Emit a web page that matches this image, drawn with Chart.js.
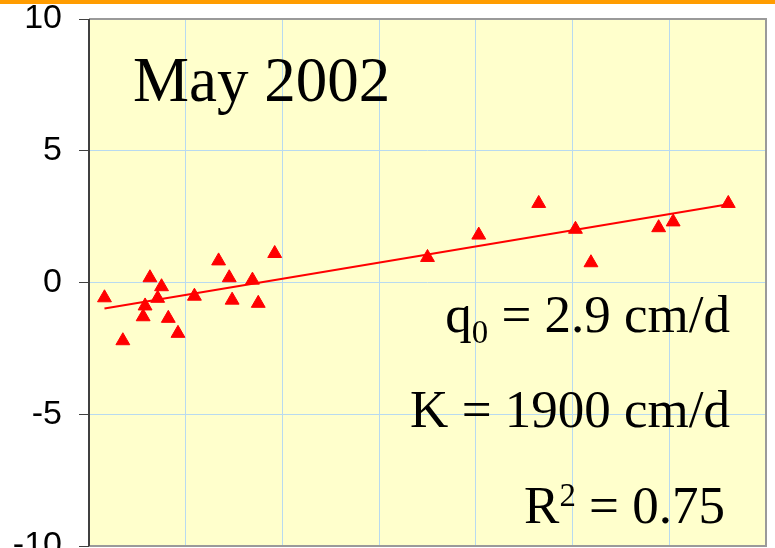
<!DOCTYPE html>
<html>
<head>
<meta charset="utf-8">
<script src="https://cdn.jsdelivr.net/npm/chart.js@4/dist/chart.umd.min.js"></script>
<style>
  html, body { margin: 0; padding: 0; background: #ffffff; overflow: hidden; width: 775px; height: 548px; }
  #wrap { position: relative; width: 775px; height: 548px; overflow: hidden; }
  #topbar { position: absolute; left: 0; top: 0; width: 775px; height: 4px; background: #FF9C00; z-index: 3; }
  canvas { position: absolute; left: 0; top: 0; }
  .ann { position: absolute; font-family: "Liberation Serif", "Times New Roman", serif; color: #000; line-height: 1; white-space: nowrap; z-index: 2; }
  .ann span { position: relative; font-size: 0.62em; }
</style>
</head>
<body>
<div id="wrap">
  <div id="topbar"></div>
  <canvas id="c" width="775" height="600"></canvas>
  <div class="ann" id="title" style="left:133px; top:49px; font-size:63px;">May 2002</div>
  <div class="ann" style="right:45px; top:288px; font-size:53px;">q<span style="top:11px;">0</span> = 2.9 cm/d</div>
  <div class="ann" style="right:45px; top:383px; font-size:53px;">K = 1900 cm/d</div>
  <div class="ann" style="right:50px; top:479px; font-size:53px;">R<span style="top:-17px;">2</span> = 0.75</div>
</div>
<script>
// ---- data ----
const xValues = [0.16, 0.63, 0.75, 0.58, 0.71, 0.56, 0.82, 0.35, 0.92, 1.09, 1.34, 1.45, 1.48, 1.69, 1.75, 1.92, 3.50, 4.03, 4.65, 5.03, 5.19, 5.89, 6.04, 6.61];
const yValues = [-0.58, 0.18, -0.16, -0.89, -0.60, -1.30, -1.36, -2.21, -1.93, -0.52, 0.82, 0.18, -0.67, 0.09, -0.79, 1.10, 0.95, 1.80, 3.00, 2.02, 0.75, 2.08, 2.30, 3.00];
const trendX = [0.16, 6.61];
const trendY = [-0.99, 2.97];
const yTicks = [-10, -5, 0, 5, 10];
const xMin = 0, xMax = 7, xStep = 1;

const points = xValues.map((x, i) => ({ x: x, y: yValues[i] }));
const trend = trendX.map((x, i) => ({ x: x, y: trendY[i] }));

const frame = {
  id: 'frame',
  beforeDraw(chart) {
    const { ctx, chartArea: a } = chart;
    ctx.save();
    ctx.fillStyle = '#FFFFCC';
    ctx.fillRect(a.left, a.top, a.right - a.left, a.bottom - a.top);
    ctx.restore();
  },
  beforeDatasetsDraw(chart) {
    const { ctx, chartArea: a } = chart;
    ctx.save();
    ctx.strokeStyle = '#9A9A9A';
    ctx.lineWidth = 2;
    ctx.beginPath();
    ctx.moveTo(a.left, a.top);
    ctx.lineTo(a.right, a.top);
    ctx.lineTo(a.right, a.bottom);
    ctx.lineTo(a.left, a.bottom);
    ctx.stroke();
    ctx.strokeStyle = '#404040';
    ctx.beginPath();
    ctx.moveTo(a.left, a.top);
    ctx.lineTo(a.left, a.bottom);
    ctx.stroke();
    ctx.restore();
  }
};

new Chart(document.getElementById('c'), {
  type: 'scatter',
  data: {
    datasets: [
      {
        label: 'trend',
        data: trend,
        showLine: true,
        borderColor: '#FF0000',
        borderWidth: 2,
        pointRadius: 0,
        fill: false
      },
      {
        label: 'data',
        data: points,
        pointStyle: 'triangle',
        pointRadius: 8,
        pointBackgroundColor: '#FF0000',
        pointBorderColor: '#FF0000',
        pointBorderWidth: 1
      }
    ]
  },
  options: {
    responsive: false,
    animation: false,
    devicePixelRatio: 1,
    layout: { padding: { left: 0, top: 19, right: 2, bottom: 54 } },
    plugins: { legend: { display: false }, tooltip: { enabled: false } },
    scales: {
      x: {
        type: 'linear',
        min: xMin, max: xMax,
        ticks: { display: false, stepSize: xStep },
        grid: { color: '#B8DAF0', lineWidth: 1, drawTicks: false },
        border: { display: false },
        afterFit(scale) { scale.height = 0; scale.paddingLeft = 0; scale.paddingRight = 0; }
      },
      y: {
        type: 'linear',
        min: -10, max: 10,
        afterBuildTicks(scale) { scale.ticks = yTicks.map(v => ({ value: v })); },
        ticks: {
          color: '#000',
          font: { family: '"Liberation Sans", Arial, sans-serif', size: 34 },
          padding: 17,
          callback: v => String(v)
        },
        grid: { color: '#B8DAF0', lineWidth: 1, drawTicks: true, tickLength: 10, tickColor: '#404040' },
        border: { display: false },
        afterFit(scale) { scale.width = 89; scale.paddingTop = 0; scale.paddingBottom = 0; }
      }
    }
  },
  plugins: [frame]
});
</script>
</body>
</html>
